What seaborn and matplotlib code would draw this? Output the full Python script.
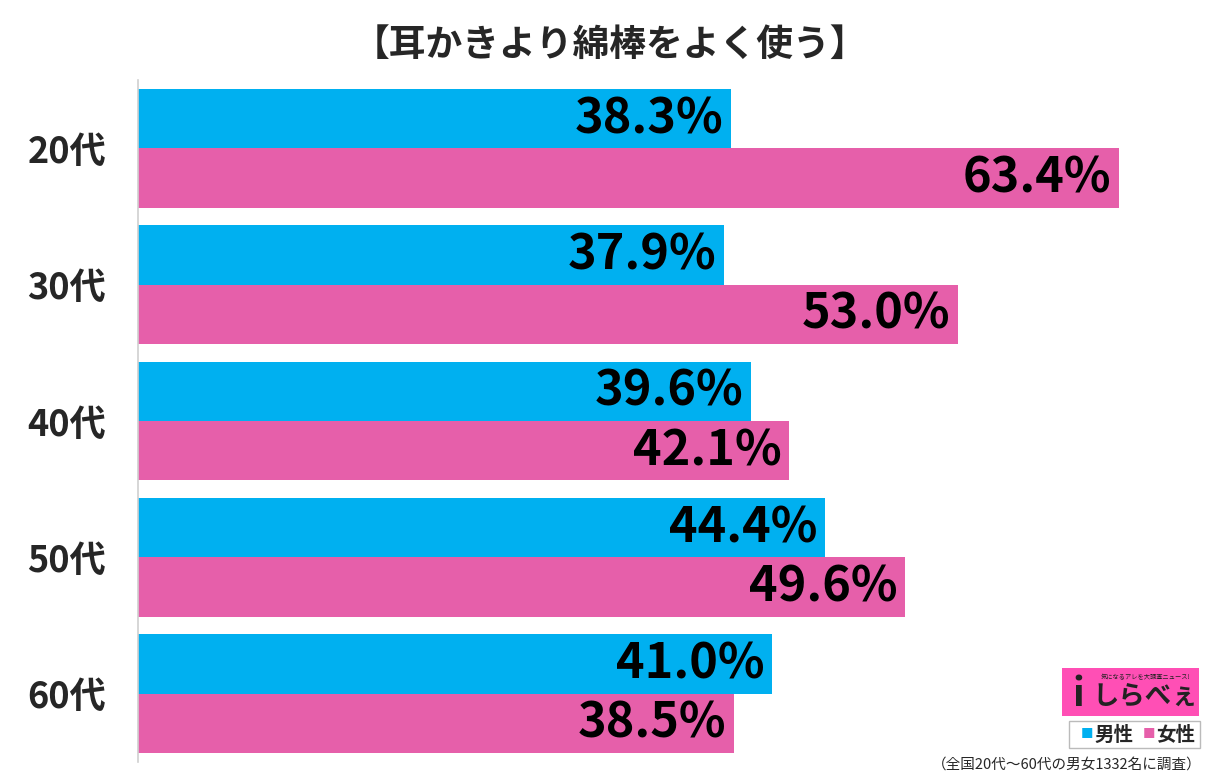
import pandas as pd
import matplotlib.pyplot as plt
import seaborn as sns

# データ
ages = ['20代', '30代', '40代', '50代', '60代']
male = [38.3, 37.9, 39.6, 44.4, 41.0]
female = [63.4, 53.0, 42.1, 49.6, 38.5]
sexes = ['男性', '女性']
colors = {'男性': '#00B0F0', '女性': '#E65FAA'}
title = '【耳かきより綿棒をよく使う】'
note = '（全国20代～60代の男女1332名に調査）'

df = pd.DataFrame({
    'age': ages * 2,
    'sex': ['男性'] * len(ages) + ['女性'] * len(ages),
    'value': male + female,
})

sns.set_style('white')
plt.rcParams['font.family'] = ['Noto Sans CJK JP', 'DejaVu Sans']

fig = plt.figure(figsize=(12.24, 7.83), dpi=100)
ax = fig.add_axes([138 / 1224, 1 - 762 / 783, (1221 - 138) / 1224, (762 - 80) / 783])

sns.barplot(data=df, x='value', y='age', hue='sex', order=ages, hue_order=sexes,
            palette=colors, orient='h', width=0.87, gap=0, legend=False,
            saturation=1, linewidth=0, ax=ax)

ax.set_xlim(0, 70)
ax.set_ylim(4.5, -0.5)
ax.set_xlabel('')
ax.set_ylabel('')
ax.set_xticks([])
ax.tick_params(axis='y', length=0, pad=23, labelsize=26)
for lbl in ax.get_yticklabels():
    lbl.set_fontweight('bold')
for side in ['top', 'right', 'bottom']:
    ax.spines[side].set_visible(False)
ax.spines['left'].set_color('#d0d0d0')
ax.spines['left'].set_linewidth(1.2)

# 値ラベル
for cont in ax.containers:
    for bar in cont:
        w = bar.get_width()
        y = bar.get_y() + bar.get_height() / 2
        ax.text(w - 0.5, y, f'{w:.1f}%', ha='right', va='center',
                fontsize=35, fontweight='bold', color='black')

fig.text(610 / 1224, 1 - 45 / 783, title, ha='center', va='center',
         fontsize=26.5, fontweight='bold')

# ロゴ
fig.patches.append(plt.Rectangle((1062 / 1224, 1 - 716 / 783), 137 / 1224, 48 / 783,
                                 transform=fig.transFigure, facecolor='#FF4FB5',
                                 edgecolor='none', zorder=3))
fig.text(1145 / 1224, 1 - 697 / 783, 'しらべぇ', ha='center', va='center',
         fontsize=19, fontweight='bold', color='#222222', zorder=4)
fig.text(1145 / 1224, 1 - 677 / 783, '気になるアレを大調査ニュース!', ha='center',
         va='center', fontsize=4.5, color='#222222', zorder=4)
fig.text(1078 / 1224, 1 - 695 / 783, 'i', ha='center', va='center',
         fontsize=28, fontweight='bold', color='#222222', zorder=4)

# 凡例
fig.patches.append(plt.Rectangle((1069 / 1224, 1 - 748 / 783), 131 / 1224, 27 / 783,
                                 transform=fig.transFigure, facecolor='white',
                                 edgecolor='#bbbbbb', linewidth=1, zorder=3))
fig.text(1087 / 1224, 1 - 735 / 783, '■', ha='center', va='center',
         fontsize=9, color=colors['男性'], zorder=4)
fig.text(1094 / 1224, 1 - 735 / 783, '男性', ha='left', va='center',
         fontsize=14, fontweight='bold', zorder=4)
fig.text(1149 / 1224, 1 - 735 / 783, '■', ha='center', va='center',
         fontsize=9, color=colors['女性'], zorder=4)
fig.text(1156 / 1224, 1 - 735 / 783, '女性', ha='left', va='center',
         fontsize=14, fontweight='bold', zorder=4)

fig.text(1202 / 1224, 1 - 765 / 783, note, ha='right', va='center', fontsize=10.5)

fig.savefig('out.png', dpi=100)
